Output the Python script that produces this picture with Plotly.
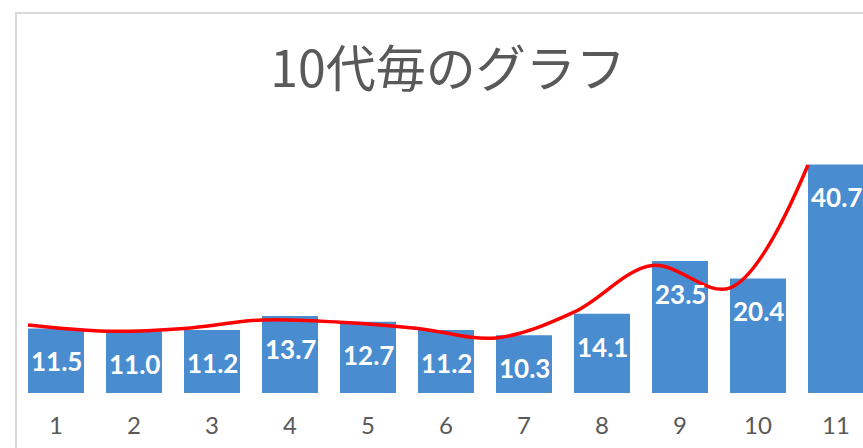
import plotly.graph_objects as go

# Categories (age brackets by decade) and their values
categories = [1, 2, 3, 4, 5, 6, 7, 8, 9, 10, 11]
bar_values = [11.5, 11.0, 11.2, 13.7, 12.7, 11.2, 10.3, 14.1, 23.5, 20.4, 40.7]
# Smoothed trend series, plotted at the left edge of each bar
trend_values = [12.1, 11.0, 11.5, 13.0, 12.6, 11.5, 9.8, 14.4, 22.7, 18.7, 40.6]
tick_labels = [str(c) for c in categories]
title_text = "10代毎のグラフ"

W, H = 863, 448
ML, MR, MT, MB = 17, 0, 129, 55
plot_w = W - ML - MR
plot_h = H - MT - MB
cat_px = 78.0            # pixel pitch between categories
bar_px = 56.0            # bar width in pixels
x_range = [0.5, 0.5 + plot_w / cat_px]
y_range = [0, 47]
trend_offset = (bar_px / 2) / cat_px

fig = go.Figure()

fig.add_trace(go.Bar(
    x=categories,
    y=bar_values,
    width=bar_px / cat_px,
    marker=dict(color="#4A8CD0", line=dict(width=0)),
    hoverinfo="skip",
    showlegend=False,
))

fig.add_trace(go.Scatter(
    x=[c - trend_offset for c in categories],
    y=trend_values,
    mode="lines",
    line=dict(color="#FF0000", width=3.5, shape="spline", smoothing=1.0),
    hoverinfo="skip",
    showlegend=False,
))

# Value labels inside the top of each bar
for c, v in zip(categories, bar_values):
    fig.add_annotation(
        x=c, y=v, xref="x", yref="y",
        text=f"{v:.1f}",
        showarrow=False,
        yshift=-33,
        font=dict(family="Lato, 'Open Sans', sans-serif", size=26, color="#FFFFFF", weight="bold"),
    )

# Chart-area border (left and top edges visible)
fig.add_shape(
    type="rect", xref="paper", yref="paper",
    x0=-1.0 / plot_w, x1=1.1,
    y0=-0.5, y1=(plot_h + MT - 13) / plot_h,
    line=dict(color="#D9D9D9", width=2),
    fillcolor="rgba(0,0,0,0)",
    layer="below",
)

fig.update_layout(
    width=W, height=H,
    margin=dict(l=ML, r=MR, t=MT, b=MB, pad=0),
    paper_bgcolor="#FFFFFF",
    plot_bgcolor="#FFFFFF",
    title=dict(
        text=title_text,
        x=448 / W, xanchor="center",
        y=1 - 69 / H, yanchor="middle",
        font=dict(family="'Noto Sans CJK JP', sans-serif", size=50, color="#595959"),
    ),
    xaxis=dict(
        range=x_range,
        tickmode="array",
        tickvals=categories,
        ticktext=tick_labels,
        showgrid=False, zeroline=False, showline=False,
        ticks="", ticklabelstandoff=16,
        tickfont=dict(family="Lato, 'Open Sans', sans-serif", size=24, color="#595959"),
        fixedrange=True,
    ),
    yaxis=dict(
        range=y_range,
        visible=False,
        showgrid=False, zeroline=False,
        fixedrange=True,
    ),
    showlegend=False,
)

fig.write_html("out.html")
